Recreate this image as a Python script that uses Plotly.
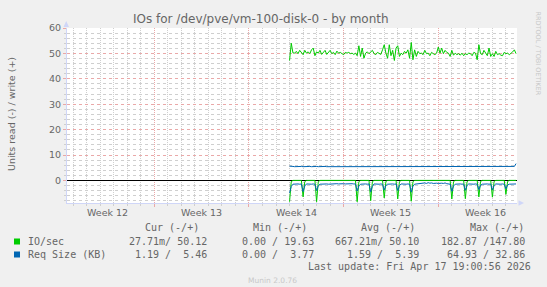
import pandas as pd
import plotly.graph_objects as go
from plotly.subplots import make_subplots

# ---------------- data ----------------
series_start = "2026-04-01 00:00"
sample_step = "3h"

# IO/sec write (+)
io_write = [47.2, 54.0, 50.2, 50.1, 50.8, 49.9, 51.2, 50.1, 49.5, 51.2,
            50.1, 50.6, 49.9, 51.4, 52.1, 49.1, 50.6, 50.1, 51.2, 49.6,
            50.4, 51.2, 49.6, 50.4, 51.2, 49.9, 50.4, 49.5, 50.9,
            50.1, 50.4, 49.9, 49.5, 50.4, 50.1, 50.4, 49.9, 50.1, 49.6,
            50.1, 49.1, 53.0, 48.8, 52.1, 48.1, 50.1, 50.6, 49.9, 50.4,
            51.2, 49.9, 49.5, 50.4, 50.1, 49.6, 51.4, 53.4, 50.1,
            48.1, 53.4, 49.1, 51.2, 47.2, 52.1, 53.0, 48.8, 50.1, 49.5,
            50.8, 50.1, 51.4, 48.1, 54.3, 47.5, 51.4, 48.8, 50.8, 49.9,
            50.1, 49.5, 51.2, 49.9, 50.1, 49.1, 50.4, 49.9, 49.5, 50.1,
            52.5, 50.1, 52.1, 49.9, 51.2, 50.4, 50.1, 48.8, 51.2,
            49.3, 50.1, 49.5, 49.9, 49.3, 50.1, 49.1, 49.9, 49.5, 50.1,
            49.9, 49.1, 50.4, 50.1, 47.5, 53.4, 49.9, 49.5, 51.2, 50.1,
            49.1, 52.1, 48.8, 49.9, 48.8, 50.8, 49.5, 49.9, 49.3, 49.1,
            50.4, 49.9, 50.1, 49.5, 49.9, 50.6, 51.4, 49.9]

# IO/sec read (-), magnitudes
io_read = [8.4, 0.5, 0.0, 0.0, 0.0, 0.0, 0.0, 0.0,
           6.5, 0.5, 0.0, 0.0, 0.0, 0.0, 0.0, 0.0,
           8.4, 0.5, 0.0, 0.0, 0.0, 0.0, 0.0, 0.0,
           0.0, 0.0, 0.0, 0.0, 0.0, 0.0, 0.0, 0.0,
           0.0, 0.0, 0.0, 0.0, 0.0, 0.0, 0.0, 0.0,
           8.4, 0.5, 0.0, 0.0, 0.0, 0.0, 0.0, 0.0,
           8.0, 0.5, 0.0, 0.0, 0.0, 0.0, 0.0, 0.0,
           6.9, 0.4, 0.0, 0.0, 0.0, 0.0, 0.0, 0.0,
           7.3, 0.5, 0.0, 0.0, 0.0, 0.0, 0.0, 0.0,
           8.2, 0.5, 0.0, 0.0, 0.0, 0.0, 0.0, 0.0,
           0.0, 0.0, 0.0, 0.0, 0.0, 0.0, 0.0, 0.0,
           0.0, 0.0, 0.0, 0.0, 0.0, 0.0, 0.0, 0.0,
           7.3, 0.5, 0.0, 0.0, 0.0, 0.0, 0.0, 0.0,
           7.2, 0.5, 0.0, 0.0, 0.0, 0.0, 0.0, 0.0,
           6.5, 0.4, 0.0, 0.0, 0.0, 0.0, 0.0, 0.0,
           6.6, 0.4, 0.0, 0.0, 0.0, 0.0, 0.0, 0.0,
           5.5, 0.4, 0.0, 0.0, 0.0, 0.0, 0.0]

# Req Size (KB) write (+)
req_write = [5.6, 5.4, 5.5, 5.4, 5.5, 5.4, 5.4, 5.5,
             5.4, 5.5, 5.4, 5.4, 5.5, 5.4, 5.5, 5.4,
             5.5, 5.4, 5.5, 5.5, 5.4, 5.5, 5.4, 5.4,
             5.4, 5.3, 5.4, 5.3, 5.4, 5.3, 5.4, 5.3,
             5.3, 5.4, 5.3, 5.4, 5.3, 5.3, 5.4, 5.3,
             5.4, 5.3, 5.4, 5.4, 5.3, 5.4, 5.4, 5.5,
             5.4, 5.4, 5.5, 5.4, 5.4, 5.5, 5.4, 5.4,
             5.5, 5.4, 5.4, 5.5, 5.4, 5.4, 5.5, 5.4,
             5.4, 5.5, 5.4, 5.4, 5.5, 5.4, 5.4, 5.5,
             5.4, 5.4, 5.5, 5.4, 5.4, 5.3, 5.4, 5.3,
             5.4, 5.3, 5.4, 5.3, 5.3, 5.4, 5.3, 5.4,
             5.3, 5.4, 5.3, 5.3, 5.4, 5.3, 5.4, 5.4,
             5.5, 5.4, 5.4, 5.5, 5.4, 5.4, 5.5, 5.4,
             5.4, 5.5, 5.4, 5.4, 5.5, 5.4, 5.4, 5.5,
             5.4, 5.4, 5.5, 5.4, 5.4, 5.5, 5.4, 5.4,
             5.5, 5.4, 5.4, 5.5, 5.4, 5.4, 5.5, 5.4,
             5.4, 5.5, 5.4, 5.4, 5.5, 5.5, 6.6]

# Req Size (KB) read (-), magnitudes
req_read = [4.9, 2.4, 1.5, 1.4, 1.5, 1.4, 1.5, 1.4,
            4.4, 2.2, 1.4, 1.5, 1.4, 1.5, 1.4, 1.5,
            4.0, 2.1, 1.5, 1.4, 1.5, 1.5, 1.4, 1.5,
            1.4, 1.3, 1.4, 1.3, 1.3, 1.4, 1.3, 1.4,
            1.3, 1.4, 1.3, 1.3, 1.4, 1.3, 1.4, 1.4,
            4.2, 2.2, 1.5, 1.4, 1.5, 1.4, 1.5, 1.4,
            4.5, 2.3, 1.4, 1.5, 1.4, 1.5, 1.4, 1.5,
            3.8, 2.0, 1.5, 1.4, 1.5, 1.4, 1.5, 1.4,
            4.0, 2.1, 1.4, 1.5, 1.4, 1.5, 1.4, 1.5,
            4.6, 2.3, 1.5, 1.4, 1.3, 1.2, 1.1, 1.2,
            1.0, 1.2, 0.9, 1.1, 1.0, 1.2, 1.0, 1.1,
            1.2, 1.0, 1.1, 1.2, 1.0, 1.3, 1.4, 1.5,
            4.3, 2.2, 1.5, 1.4, 1.5, 1.4, 1.5, 1.4,
            3.9, 2.0, 1.4, 1.5, 1.4, 1.5, 1.4, 1.5,
            3.6, 1.9, 1.5, 1.4, 1.5, 1.4, 1.5, 1.4,
            3.8, 2.0, 1.4, 1.5, 1.4, 1.5, 1.4, 1.5,
            3.3, 1.8, 1.5, 1.4, 1.5, 1.4, 1.4]

week_starts = ["2026-03-15", "2026-03-22", "2026-03-29", "2026-04-05", "2026-04-12"]
week_labels = ["Week 12", "Week 13", "Week 14", "Week 15", "Week 16"]
x_window = ["2026-03-15 13:00", "2026-04-17 19:40"]
y_window = [-8.9, 60]

title_text = "IOs for /dev/pve/vm-100-disk-0 - by month"
y_title = "Units read (-) / write (+)"
legend_names = ["IO/sec", "Req Size (KB)"]
legend_colors = ["#00CC00", "#0066B3"]
stat_headers = ["Cur (-/+)", "Min (-/+)", "Avg (-/+)", "Max (-/+)"]
stat_rows = [["27.71m/ 50.12", "0.00 / 19.63", "667.21m/ 50.10", "182.87 /147.80"],
             ["1.19 /  5.46", "0.00 /  3.77", "1.59 /  5.39", "64.93 / 32.86"]]
last_update = "Last update: Fri Apr 17 19:00:56 2026"
credit = "Munin 2.0.76"
watermark = "RRDTOOL / TOBI OETIKER"

# ---------------- geometry ----------------
W, H = 547, 287
L, R, T, B = 67, 517, 28, 203


def px(p):
    return (p - L) / (R - L)


def py(p):
    return (B - p) / (B - T)


FONT_SANS = "DejaVu Sans"
FONT_MONO = "DejaVu Sans Mono"
TXT = "#666666"
AXIS = "#CFD6F8"
MGRID = "#EAA8A8"
GRID = "#CFCFCF"
DASH = "1px,1px"
day_ms = 86400000


def times(arr):
    return pd.date_range(series_start, periods=len(arr), freq=sample_step)


fig = make_subplots(rows=1, cols=1)
fig.add_trace(go.Scatter(x=times(io_read), y=[-v for v in io_read], mode="lines",
                         line=dict(color=legend_colors[0], width=1), showlegend=False))
fig.add_trace(go.Scatter(x=times(io_write), y=io_write, mode="lines",
                         line=dict(color=legend_colors[0], width=1), showlegend=False))
fig.add_trace(go.Scatter(x=times(req_read), y=[-v for v in req_read], mode="lines",
                         line=dict(color=legend_colors[1], width=1), showlegend=False))
fig.add_trace(go.Scatter(x=times(req_write), y=req_write, mode="lines",
                         line=dict(color=legend_colors[1], width=1), showlegend=False))

fig.update_layout(width=W, height=H, margin=dict(l=L, r=W - R, t=T, b=H - B, pad=0),
                  paper_bgcolor="#F0F0F0", plot_bgcolor="#FFFFFF", showlegend=False)
fig.update_xaxes(type="date", range=x_window, tick0=week_starts[0], dtick=7 * day_ms,
                 showticklabels=False, showgrid=True, gridcolor=MGRID, griddash=DASH,
                 ticks="outside", ticklen=3, tickcolor=MGRID,
                 showline=True, linecolor=AXIS, linewidth=1, zeroline=False,
                 minor=dict(tick0=week_starts[0], dtick=day_ms, showgrid=True, gridcolor=GRID,
                            griddash=DASH, ticks="outside", ticklen=2, tickcolor=GRID))
fig.update_yaxes(range=y_window, tick0=0, dtick=10, showgrid=True, gridcolor=MGRID,
                 griddash="dot", ticks="outside", ticklen=3, tickcolor=MGRID,
                 showline=True, linecolor=AXIS, linewidth=1,
                 zeroline=True, zerolinecolor="#000000", zerolinewidth=1,
                 tickfont=dict(family=FONT_SANS, size=9.5, color=TXT),
                 minor=dict(dtick=2, showgrid=True, gridcolor=GRID, griddash="dot",
                            ticks="outside", ticklen=2, tickcolor=GRID))

shapes = []
shapes.append(dict(type="path", xref="paper", yref="paper",
                   path=f"M {px(63.5)} {py(27)} L {px(69)} {py(27)} L {px(66.2)} {py(21)} Z",
                   fillcolor=AXIS, line=dict(width=0)))
shapes.append(dict(type="path", xref="paper", yref="paper",
                   path=f"M {px(518.5)} {py(200.3)} L {px(518.5)} {py(205.8)} L {px(524)} {py(203)} Z",
                   fillcolor=AXIS, line=dict(width=0)))
for i, c in enumerate(legend_colors):
    yc = 241.5 + i * 13
    shapes.append(dict(type="rect", xref="paper", yref="paper",
                       x0=px(14), x1=px(20), y0=py(yc - 3), y1=py(yc + 3),
                       fillcolor=c, line=dict(width=0)))
fig.update_layout(shapes=shapes)

ann = []


def text(s, x, y, anchor="left", size=10, family=FONT_MONO, color=TXT, angle=0, xref="paper"):
    ann.append(dict(text=s.replace(" ", "\u00a0"), x=x if xref != "paper" else px(x), y=py(y),
                    xref=xref, yref="paper",
                    xanchor=anchor, yanchor="middle", showarrow=False, textangle=angle,
                    font=dict(family=family, size=size, color=color)))


for ws, lab in zip(week_starts, week_labels):
    mid = (pd.Timestamp(ws) + pd.Timedelta(hours=84)).strftime("%Y-%m-%d %H:%M")
    text(lab, mid, 212.9, anchor="center", size=9.5, family=FONT_SANS, xref="x")

text(title_text, 260.5, 19, anchor="center", size=12, family=FONT_SANS)
text(y_title, 11, 114, anchor="center", size=9.5, family=FONT_SANS, angle=-90)
text(watermark, 537.5, 53, anchor="center", size=6.5, family=FONT_SANS, color="#C8C8C8", angle=90)

col_right_hdr = [200.6, 308.8, 417.0, 526.2]
col_right_val = [209.4, 315.8, 421.1, 526.9]
for h, xr in zip(stat_headers, col_right_hdr):
    text(h, xr, 227.9, anchor="right")
for i, name in enumerate(legend_names):
    yc = 241.2 + i * 12.9
    text(name, 26.2, yc)
    for s, xr in zip(stat_rows[i], col_right_val):
        text(s, xr, yc, anchor="right")
text(last_update, 532.8, 266.3, anchor="right")
text(credit, 272.9, 280.3, anchor="center", size=7.5, family=FONT_SANS, color="#C8C8C8")
fig.update_layout(annotations=ann)

fig.write_html("out.html")
